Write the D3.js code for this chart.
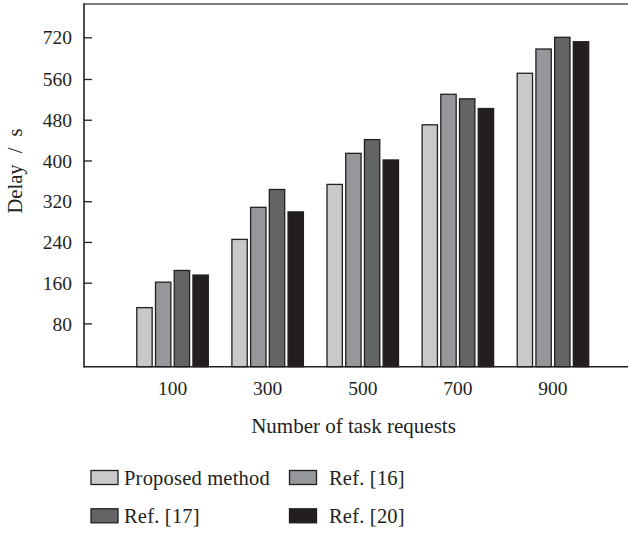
<!DOCTYPE html>
<html>
<head>
<meta charset="utf-8">
<script src="https://cdn.jsdelivr.net/npm/d3@7/dist/d3.min.js"></script>
<style>
  html, body { margin: 0; padding: 0; background: #fff; }
  svg { display: block; }
  text { font-family: "Liberation Serif", "Times New Roman", serif; fill: #231f20; }
</style>
</head>
<body>
<svg id="chart" width="628" height="533"></svg>
<script>
// Delay (s) per number of task requests, for each method
const categories = ["100", "300", "500", "700", "900"];
const seriesNames = ["Proposed method", "Ref. [16]", "Ref. [17]", "Ref. [20]"];
const proposed = [111, 245, 353, 470, 582];
const ref16    = [161, 308, 414, 530, 675];
const ref17    = [184, 343, 441, 521, 720];
const ref20    = [175, 299, 401, 502, 703];
const yTickValues = [80, 160, 240, 320, 400, 480, 560, 720];
const seriesColors = ["#c8c9cb", "#96979a", "#636466", "#231f20"];

const seriesValues = [proposed, ref16, ref17, ref20];
const rows = categories.map((c, i) => ({
  cat: c,
  vals: seriesNames.map((s, j) => ({ key: s, value: seriesValues[j][i], color: seriesColors[j] }))
}));

const svg = d3.select("#chart");
const W = 628, H = 533;
const plotLeft = 84, plotTop = 4, plotBottom = 366.7;

svg.append("rect").attr("width", W).attr("height", H).attr("fill", "#fff");

// value axis: the upper segment above 560 is drawn compressed
const y = d3.scaleLinear().domain([-5, 560, 720]).range([plotBottom, 79, 37.3]);

const x0 = d3.scaleBand().domain(categories).range([125, 600.5]).padding(0);
const groupW = 71.5;
const x1 = d3.scaleBand().domain(seriesNames)
  .range([(x0.step() - groupW) / 2, (x0.step() + groupW) / 2])
  .paddingInner(0.18).paddingOuter(0);

// bars
const groups = svg.append("g").selectAll("g").data(rows).join("g")
  .attr("transform", d => `translate(${x0(d.cat)},0)`);
groups.selectAll("rect").data(d => d.vals).join("rect")
  .attr("x", d => x1(d.key))
  .attr("y", d => y(d.value))
  .attr("width", x1.bandwidth())
  .attr("height", d => plotBottom - y(d.value))
  .attr("fill", d => d.color)
  .attr("stroke", "#231f20")
  .attr("stroke-width", 1.3);

// frame lines
svg.append("line").attr("x1", plotLeft).attr("x2", W).attr("y1", plotTop).attr("y2", plotTop)
  .attr("stroke", "#555").attr("stroke-width", 1.6);
svg.append("line").attr("x1", plotLeft).attr("x2", W).attr("y1", plotBottom).attr("y2", plotBottom)
  .attr("stroke", "#231f20").attr("stroke-width", 1.6);

// y axis with inward ticks
const yAxis = d3.axisRight(y).tickValues(yTickValues).tickSize(8).tickFormat(d3.format("d"));
const ya = svg.append("g").attr("transform", `translate(${plotLeft},0)`).call(yAxis);
ya.select(".domain").remove();
ya.selectAll(".tick line").attr("stroke", "#231f20").attr("stroke-width", 1.3);
ya.selectAll(".tick text")
  .attr("x", -12).attr("dy", "0.34em")
  .attr("text-anchor", "end")
  .style("font-family", '"Liberation Serif", serif')
  .style("font-size", "19.5px")
  .attr("fill", "#231f20");
svg.append("line").attr("x1", plotLeft).attr("x2", plotLeft).attr("y1", plotTop - 0.8).attr("y2", plotBottom + 0.8)
  .attr("stroke", "#231f20").attr("stroke-width", 1.6);

// x category labels
const xAxis = d3.axisBottom(x0).tickSize(0);
const xa = svg.append("g").attr("transform", `translate(0,${plotBottom})`).call(xAxis);
xa.select(".domain").remove();
xa.selectAll(".tick text")
  .attr("y", 28.3).attr("dy", 0)
  .style("font-family", '"Liberation Serif", serif')
  .style("font-size", "19.5px")
  .attr("fill", "#231f20");

// axis titles
svg.append("text").attr("x", 353.5).attr("y", 433)
  .attr("text-anchor", "middle").style("font-size", "21px")
  .text("Number of task requests");
svg.append("text")
  .attr("transform", "translate(22,171) rotate(-90)")
  .attr("text-anchor", "middle").style("font-size", "20.5px")
  .style("word-spacing", "6px")
  .text("Delay / s");

// legend, two columns
const legendPos = [
  { sx: 91, tx: 124, base: 485 },
  { sx: 289.5, tx: 329, base: 485 },
  { sx: 91, tx: 124, base: 523.3 },
  { sx: 289.5, tx: 329, base: 523.3 }
];
const lg = svg.append("g").selectAll("g").data(seriesNames).join("g");
lg.append("rect")
  .attr("x", (d, i) => legendPos[i].sx)
  .attr("y", (d, i) => legendPos[i].base - 14.5)
  .attr("width", 27).attr("height", 14)
  .attr("fill", (d, i) => seriesColors[i])
  .attr("stroke", "#231f20").attr("stroke-width", 1.3);
lg.append("text")
  .attr("x", (d, i) => legendPos[i].tx)
  .attr("y", (d, i) => legendPos[i].base)
  .style("font-size", "20.5px")
  .style("letter-spacing", "0.2px")
  .text(d => d);
</script>
</body>
</html>
